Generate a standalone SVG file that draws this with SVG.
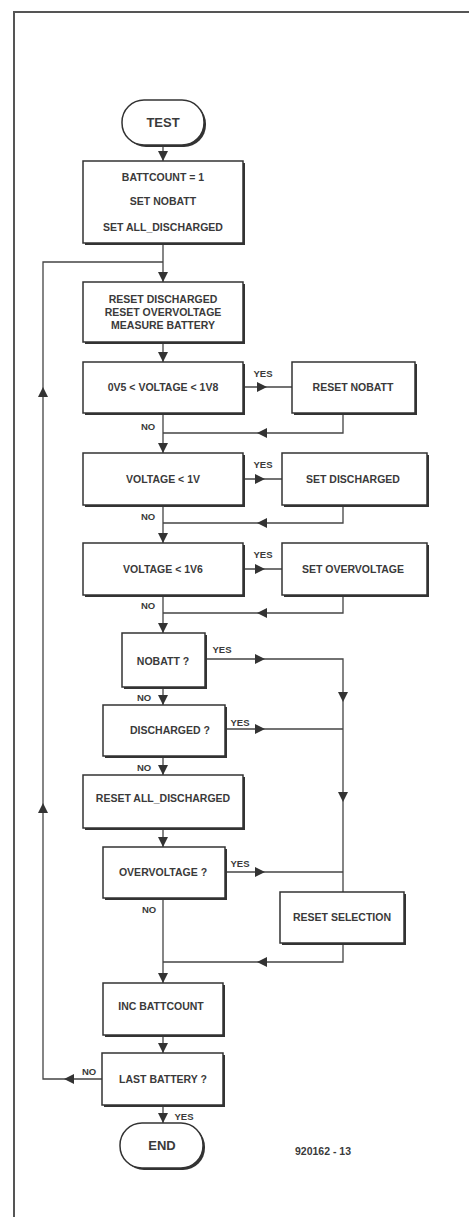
<svg xmlns="http://www.w3.org/2000/svg" xmlns:xlink="http://www.w3.org/1999/xlink" width="469" height="1217" viewBox="0 0 469 1217">
<style>
.bx{fill:#fff;stroke:#333;stroke-width:1.5}
.sh{fill:#333}
.t{font-family:"Liberation Sans",Arial,sans-serif;font-weight:bold;font-size:10.5px;fill:#3a3a3a;text-anchor:middle}
.tl{font-family:"Liberation Sans",Arial,sans-serif;font-weight:bold;font-size:13px;fill:#3a3a3a;text-anchor:middle}
.lb{font-family:"Liberation Sans",Arial,sans-serif;font-weight:bold;font-size:9.5px;fill:#3a3a3a;text-anchor:middle}
.ln{fill:none;stroke:#444;stroke-width:1.3}
.fr{fill:none;stroke:#555;stroke-width:2}
.ah{fill:#333}
</style>
<defs>
<path id="ah" class="ah" d="M-5,-10 L5,-10 L0,0 Z"/>
</defs>
<rect width="469" height="1217" fill="#fff"/>
<path class="fr" d="M14,1217 V12 H469"/>

<g id="connectors">
<path class="ln" d="M163,145 V161"/>
<path class="ln" d="M163,243 V282"/>
<path class="ln" d="M163,342 V362"/>
<path class="ln" d="M243,387 H292"/>
<path class="ln" d="M343,413 V433 H163"/>
<path class="ln" d="M163,413 V453"/>
<path class="ln" d="M243,479 H282"/>
<path class="ln" d="M343,505 V523 H163"/>
<path class="ln" d="M163,505 V543"/>
<path class="ln" d="M243,569 H282"/>
<path class="ln" d="M343,595 V613 H163"/>
<path class="ln" d="M163,595 V633"/>
<path class="ln" d="M205,659 H343 V892"/>
<path class="ln" d="M163,687 V705"/>
<path class="ln" d="M225,729 H343"/>
<path class="ln" d="M163,756 V775"/>
<path class="ln" d="M163,828 V847"/>
<path class="ln" d="M225,872 H343"/>
<path class="ln" d="M343,943 V962 H163"/>
<path class="ln" d="M163,898 V983"/>
<path class="ln" d="M163,1035 V1053"/>
<path class="ln" d="M102,1079 H43 V262 H163"/>
<path class="ln" d="M163,1105 V1123"/>
<use xlink:href="#ah" transform="translate(163,161)"/>
<use xlink:href="#ah" transform="translate(163,282)"/>
<use xlink:href="#ah" transform="translate(163,362)"/>
<use xlink:href="#ah" transform="translate(267,387) rotate(-90)"/>
<use xlink:href="#ah" transform="translate(257,433) rotate(90)"/>
<use xlink:href="#ah" transform="translate(163,453)"/>
<use xlink:href="#ah" transform="translate(265,479) rotate(-90)"/>
<use xlink:href="#ah" transform="translate(257,523) rotate(90)"/>
<use xlink:href="#ah" transform="translate(163,543)"/>
<use xlink:href="#ah" transform="translate(265,569) rotate(-90)"/>
<use xlink:href="#ah" transform="translate(257,613) rotate(90)"/>
<use xlink:href="#ah" transform="translate(163,633)"/>
<use xlink:href="#ah" transform="translate(265,659) rotate(-90)"/>
<use xlink:href="#ah" transform="translate(343,702)"/>
<use xlink:href="#ah" transform="translate(343,802)"/>
<use xlink:href="#ah" transform="translate(163,705)"/>
<use xlink:href="#ah" transform="translate(265,729) rotate(-90)"/>
<use xlink:href="#ah" transform="translate(163,775)"/>
<use xlink:href="#ah" transform="translate(163,847)"/>
<use xlink:href="#ah" transform="translate(265,872) rotate(-90)"/>
<use xlink:href="#ah" transform="translate(257,962) rotate(90)"/>
<use xlink:href="#ah" transform="translate(163,983)"/>
<use xlink:href="#ah" transform="translate(163,1053)"/>
<use xlink:href="#ah" transform="translate(64,1079) rotate(90)"/>
<use xlink:href="#ah" transform="translate(43,387) rotate(180)"/>
<use xlink:href="#ah" transform="translate(43,803) rotate(180)"/>
<use xlink:href="#ah" transform="translate(163,1123)"/>
<text class="lb" x="263" y="377">YES</text>
<text class="lb" x="148" y="430">NO</text>
<text class="lb" x="263" y="468">YES</text>
<text class="lb" x="148" y="520">NO</text>
<text class="lb" x="263" y="558">YES</text>
<text class="lb" x="148" y="609">NO</text>
<text class="lb" x="222" y="653">YES</text>
<text class="lb" x="144" y="701">NO</text>
<text class="lb" x="240" y="726">YES</text>
<text class="lb" x="144" y="771">NO</text>
<text class="lb" x="240" y="867">YES</text>
<text class="lb" x="149" y="913">NO</text>
<text class="lb" x="89" y="1075">NO</text>
<text class="lb" x="184" y="1120">YES</text>
</g>

<g id="test">
<rect class="sh" x="124" y="102" width="82" height="45" rx="22"/>
<rect class="bx" x="122" y="100" width="82" height="45" rx="22"/>
<text class="tl" x="163" y="127">TEST</text>
</g>
<g id="init">
<rect class="sh" x="85" y="163" width="160" height="82"/>
<rect class="bx" x="83" y="161" width="160" height="82"/>
<text class="t" x="163" y="181">BATTCOUNT = 1</text>
<text class="t" x="163" y="205">SET NOBATT</text>
<text class="t" x="163" y="231">SET ALL_DISCHARGED</text>
</g>
<g id="measure">
<rect class="sh" x="85" y="284" width="160" height="60"/>
<rect class="bx" x="83" y="282" width="160" height="60"/>
<text class="t" x="163" y="303">RESET DISCHARGED</text>
<text class="t" x="163" y="316">RESET OVERVOLTAGE</text>
<text class="t" x="163" y="329">MEASURE BATTERY</text>
</g>
<g id="check1">
<rect class="sh" x="85" y="364" width="160" height="51"/>
<rect class="bx" x="83" y="362" width="160" height="51"/>
<text class="t" x="163" y="391">0V5 &lt; VOLTAGE &lt; 1V8</text>
</g>
<g id="resetnobatt">
<rect class="sh" x="294" y="364" width="123" height="51"/>
<rect class="bx" x="292" y="362" width="123" height="51"/>
<text class="t" x="353" y="391">RESET NOBATT</text>
</g>
<g id="check2">
<rect class="sh" x="85" y="455" width="160" height="52"/>
<rect class="bx" x="83" y="453" width="160" height="52"/>
<text class="t" x="163" y="483">VOLTAGE &lt; 1V</text>
</g>
<g id="setdischarged">
<rect class="sh" x="284" y="455" width="145" height="52"/>
<rect class="bx" x="282" y="453" width="145" height="52"/>
<text class="t" x="353" y="483">SET DISCHARGED</text>
</g>
<g id="check3">
<rect class="sh" x="85" y="545" width="160" height="52"/>
<rect class="bx" x="83" y="543" width="160" height="52"/>
<text class="t" x="163" y="573">VOLTAGE &lt; 1V6</text>
</g>
<g id="setovervoltage">
<rect class="sh" x="284" y="545" width="145" height="52"/>
<rect class="bx" x="282" y="543" width="145" height="52"/>
<text class="t" x="353" y="573">SET OVERVOLTAGE</text>
</g>
<g id="nobatt">
<rect class="sh" x="124" y="635" width="83" height="54"/>
<rect class="bx" x="122" y="633" width="83" height="54"/>
<text class="t" x="163" y="665">NOBATT ?</text>
</g>
<g id="discharged">
<rect class="sh" x="105" y="707" width="122" height="51"/>
<rect class="bx" x="103" y="705" width="122" height="51"/>
<text class="t" x="170" y="734">DISCHARGED ?</text>
</g>
<g id="resetall">
<rect class="sh" x="85" y="777" width="160" height="53"/>
<rect class="bx" x="83" y="775" width="160" height="53"/>
<text class="t" x="163" y="802">RESET ALL_DISCHARGED</text>
</g>
<g id="overvoltage">
<rect class="sh" x="105" y="849" width="122" height="51"/>
<rect class="bx" x="103" y="847" width="122" height="51"/>
<text class="t" x="163" y="876">OVERVOLTAGE ?</text>
</g>
<g id="resetselection">
<rect class="sh" x="282" y="894" width="124" height="51"/>
<rect class="bx" x="280" y="892" width="124" height="51"/>
<text class="t" x="342" y="921">RESET SELECTION</text>
</g>
<g id="inc">
<rect class="sh" x="105" y="985" width="120" height="52"/>
<rect class="bx" x="103" y="983" width="120" height="52"/>
<text class="t" x="161" y="1010">INC BATTCOUNT</text>
</g>
<g id="last">
<rect class="sh" x="104" y="1055" width="121" height="52"/>
<rect class="bx" x="102" y="1053" width="121" height="52"/>
<text class="t" x="163" y="1083">LAST BATTERY ?</text>
</g>
<g id="end">
<rect class="sh" x="122" y="1125" width="83" height="45" rx="22"/>
<rect class="bx" x="120" y="1123" width="83" height="45" rx="22"/>
<text class="tl" x="162" y="1150">END</text>
</g>
<text class="t" x="323" y="1155">920162 - 13</text>
</svg>
